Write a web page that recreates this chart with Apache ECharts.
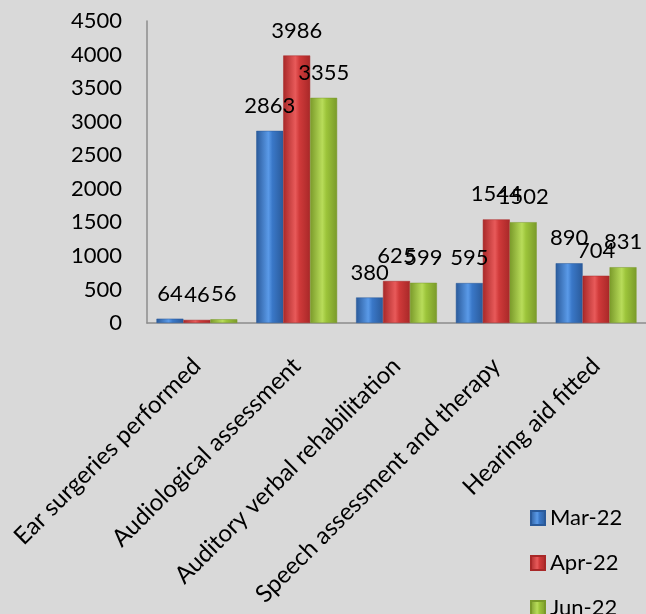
<!DOCTYPE html>
<html>
<head>
<meta charset="utf-8">
<script src="https://cdn.jsdelivr.net/npm/echarts@6/dist/echarts.min.js"></script>
<style>
  html, body { margin: 0; padding: 0; background: #d9d9d9; }
  #chart { width: 646px; height: 614px; }
</style>
</head>
<body>
<div id="chart"></div>
<script>
// categories and series
const categories = [
  'Ear surgeries performed',
  'Audiological assessment',
  'Auditory verbal rehabilitation',
  'Speech assessment and therapy',
  'Hearing aid fitted'
];
const mar22 = [64, 2863, 380, 595, 890];
const apr22 = [46, 3986, 625, 1544, 704];
const jun22 = [56, 3355, 599, 1502, 831];

const FONT = 'Lato';

/* 3d-ish bar fill */
function barFill(dark, mid, light) {
  return new echarts.graphic.LinearGradient(0, 0, 1, 0, [
    { offset: 0, color: dark },
    { offset: 0.45, color: light },
    { offset: 0.6, color: mid },
    { offset: 1, color: dark }
  ]);
}

function makeSeries(name, data, dark, mid, light) {
  return {
    name: name,
    type: 'bar',
    data: data,
    barGap: '0%',
    barCategoryGap: '19%',
    itemStyle: {
      color: barFill(dark, mid, light),
      borderColor: dark,
      borderWidth: 0.5
    },
    label: {
      show: true,
      position: 'top',
      distance: 14,
      color: '#000',
      fontSize: 22,
      fontFamily: FONT
    }
  };
}

const chart = echarts.init(document.getElementById('chart'));
const option = {
  backgroundColor: '#d9d9d9',
  animation: false,
  textStyle: { fontFamily: FONT },
  grid: {
    left: 147,
    top: 21,
    right: -1,
    bottom: 291,
    containLabel: false
  },
  legend: {
    orient: 'vertical',
    left: 525,
    top: 502,
    height: 200,
    itemWidth: 14,
    itemHeight: 14,
    itemGap: 23,
    icon: 'rect',
    textStyle: { fontSize: 22, color: '#000', fontFamily: FONT },
    data: ['Mar-22', 'Apr-22', 'Jun-22']
  },
  xAxis: {
    type: 'category',
    data: categories,
    axisLine: { lineStyle: { color: '#8c8c8c', width: 1.5 } },
    axisTick: { show: false },
    axisLabel: {
      rotate: 45,
      interval: 0,
      margin: 39,
      color: '#000',
      fontSize: 24,
      fontFamily: FONT
    }
  },
  yAxis: {
    type: 'value',
    min: 0,
    max: 4500,
    interval: 500,
    splitLine: { show: false },
    axisLine: { show: true, lineStyle: { color: '#8c8c8c', width: 1.5 } },
    axisTick: { show: false },
    axisLabel: {
      margin: 25,
      color: '#000',
      fontSize: 22,
      fontFamily: FONT,
      formatter: function (v) { return String(v); }
    }
  },
  series: [
    makeSeries('Mar-22', mar22, '#2a5a9a', '#3a78c8', '#5a9ae8'),
    makeSeries('Apr-22', apr22, '#a82828', '#d03a3a', '#e85a5a'),
    makeSeries('Jun-22', jun22, '#7a9a2a', '#9cc43a', '#b8dc5a')
  ]
};
chart.setOption(option);
</script>
</body>
</html>
